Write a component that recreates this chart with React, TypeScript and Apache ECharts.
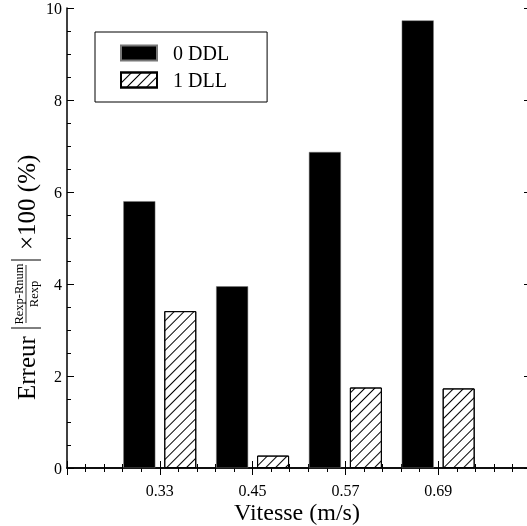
import React, { useEffect, useRef } from "react";
import * as echarts from "echarts";

const speeds = [0.33, 0.45, 0.57, 0.69];
const ddl0 = [5.8, 3.95, 6.87, 9.73];
const dll1 = [3.41, 0.27, 1.75, 1.73];
const seriesNames = ["0 DDL", "1 DLL"];
const xTickStart = 0.21;
const xTickEnd = 0.81;
const xTickStep = 0.12;
const yTicks = [0, 2, 4, 6, 8, 10];
const xTitle = "Vitesse (m/s)";

const FONT = "'Liberation Serif', 'Times New Roman', serif";

export default function App() {
  const ref = useRef<HTMLDivElement>(null);
  useEffect(() => {
    if (!ref.current) return;
    const chart = echarts.init(ref.current, null, { renderer: "svg" });
    const axisLine = { show: true, lineStyle: { color: "#000", width: 1.5 } };
    const xCommon = {
      type: "value" as const,
      min: xTickStart,
      max: xTickEnd,
      interval: xTickStep,
      axisLine,
      axisTick: { show: true, inside: true, length: 7, lineStyle: { color: "#000", width: 1 } },
      minorTick: { show: true, splitNumber: 5, length: 4, lineStyle: { color: "#000", width: 1 } },
      splitLine: { show: false },
      minorSplitLine: { show: false },
    };
    const yCommon = {
      type: "value" as const,
      min: yTicks[0],
      max: yTicks[yTicks.length - 1],
      interval: yTicks[1] - yTicks[0],
      axisLine,
      axisTick: { show: true, inside: true, length: 7, lineStyle: { color: "#000", width: 1 } },
      minorTick: { show: true, splitNumber: 4, length: 4, lineStyle: { color: "#000", width: 1 } },
      splitLine: { show: false },
      minorSplitLine: { show: false },
    };
    const decal = {
      symbol: "rect",
      symbolSize: 1,
      dashArrayX: [1, 0],
      dashArrayY: [1, 6],
      rotation: -Math.PI / 4,
      color: "#000",
      backgroundColor: "#fff",
    };
    chart.setOption({
      animation: false,
      textStyle: { fontFamily: FONT },
      grid: {
        left: 67,
        top: 8,
        width: 464,
        height: 460,
        containLabel: false,
        outerBoundsMode: "none",
      },
      legend: {
        left: 95,
        top: 32,
        orient: "vertical",
        padding: [11, 38, 12, 25],
        itemWidth: 36,
        itemHeight: 15,
        itemGap: 7,
        icon: "rect",
        borderColor: "#000",
        borderWidth: 1,
        textStyle: { fontFamily: FONT, fontSize: 20, color: "#000", padding: [0, 0, 0, 11] },
        data: seriesNames,
      },
      xAxis: [
        {
          ...xCommon,
          position: "bottom",
          axisLabel: {
            show: true,
            color: "#000",
            fontSize: 16,
            fontFamily: FONT,
            margin: 14,
            formatter: (v: number) =>
              Math.abs(v - xTickStart) < 1e-6 || v > xTickEnd - 1e-6 ? "" : v.toFixed(2),
          },
        },
        { ...xCommon, position: "top", axisLabel: { show: false } },
      ],
      yAxis: [
        {
          ...yCommon,
          position: "left",
          axisLabel: { show: true, color: "#000", fontSize: 16, fontFamily: FONT, margin: 5 },
        },
        { ...yCommon, position: "right", axisLabel: { show: false } },
      ],
      graphic: [
        {
          type: "text",
          x: 297,
          y: 512,
          style: { text: xTitle, font: `24px ${FONT}`, fill: "#000", textAlign: "center", textVerticalAlign: "middle" },
        },
        {
          type: "group",
          x: 26,
          y: 400,
          rotation: Math.PI / 2,
          children: [
            { type: "text", x: 0, y: 0, style: { text: "Erreur", font: `25px ${FONT}`, fill: "#000", textAlign: "left", textVerticalAlign: "middle" } },
            { type: "line", shape: { x1: 72, y1: -15, x2: 72, y2: 15 }, style: { stroke: "#000", lineWidth: 1 } },
            { type: "text", x: 106, y: -7, style: { text: "Rexp-Rnum", font: `12.5px ${FONT}`, fill: "#000", textAlign: "center", textVerticalAlign: "middle" } },
            { type: "line", shape: { x1: 77, y1: 0, x2: 135, y2: 0 }, style: { stroke: "#000", lineWidth: 0.8 } },
            { type: "text", x: 106, y: 8, style: { text: "Rexp", font: `12.5px ${FONT}`, fill: "#000", textAlign: "center", textVerticalAlign: "middle" } },
            { type: "line", shape: { x1: 140, y1: -15, x2: 140, y2: 15 }, style: { stroke: "#000", lineWidth: 1 } },
            { type: "text", x: 150, y: 0, style: { text: "×100 (%)", font: `25px ${FONT}`, fill: "#000", textAlign: "left", textVerticalAlign: "middle" } },
          ],
        },
      ],
      series: [
        {
          name: seriesNames[0],
          type: "bar",
          xAxisIndex: 0,
          yAxisIndex: 0,
          barWidth: 32,
          barGap: "28%",
          itemStyle: { color: "#000", borderColor: "#777", borderWidth: 0.5 },
          data: speeds.map((s, i) => [s, ddl0[i]]),
        },
        {
          name: seriesNames[1],
          type: "bar",
          xAxisIndex: 0,
          yAxisIndex: 0,
          barWidth: 32,
          barGap: "28%",
          itemStyle: { color: "#fff", borderColor: "#000", borderWidth: 1, decal },
          data: speeds.map((s, i) => [s, dll1[i]]),
        },
      ],
    });
    return () => chart.dispose();
  }, []);
  return <div ref={ref} style={{ position: "fixed", left: 0, top: 0, width: 527, height: 526 }} />;
}
